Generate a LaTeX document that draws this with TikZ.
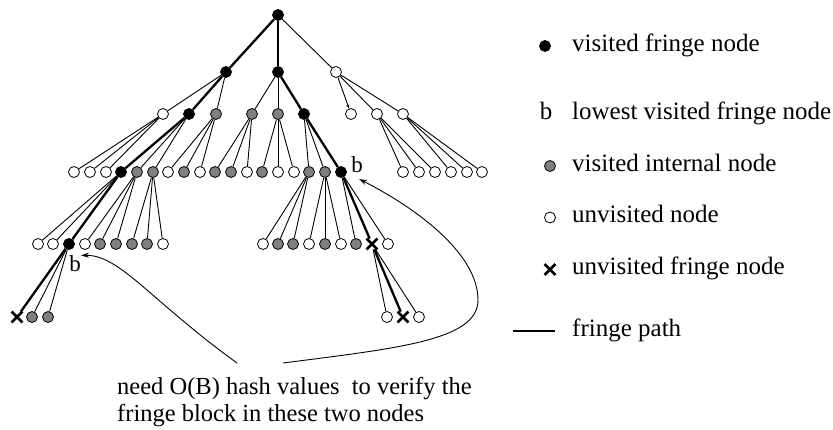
\documentclass[tikz,border=0pt]{standalone}
\usepackage{fontspec}
\setmainfont{Liberation Serif}
\usetikzlibrary{shapes.misc,arrows.meta}
\definecolor{midgray}{RGB}{128,128,128}
\begin{document}
\begin{tikzpicture}[x=1pt,y=-1pt,
  nd/.style={circle,draw=black,line width=0.8pt,minimum size=11pt,inner sep=0pt},
  wn/.style={nd,fill=white},
  bn/.style={nd,fill=black},
  gn/.style={nd,fill=midgray},
  xn/.style={cross out,draw=black,line width=2.8pt,minimum size=8pt,inner sep=0pt},
  tedge/.style={line width=0.9pt},
  fedge/.style={line width=2.3pt},
  blab/.style={font=\fontsize{23}{26}\selectfont,inner sep=0pt,anchor=base},
  ltext/.style={font=\fontsize{25}{29}\selectfont,inner sep=0pt,anchor=base west},
  ntext/.style={font=\fontsize{24.5}{29}\selectfont,inner sep=0pt,anchor=base west},
  callout/.style={line width=0.9pt,-{Stealth[length=8pt,width=5pt]}}
]
\useasboundingbox (0,0) rectangle (833,430);
% level 0-1
\node[bn] (r) at (278,15) {};
\node[bn] (a1) at (226,72) {};
\node[bn] (a2) at (278,72) {};
\node[wn] (a3) at (336,72) {};
% level 2
\foreach \n/\x/\s in {b1/163/wn,b2/189/bn,b3/216/gn,b4/252/gn,b5/278/gn,b6/304/bn,b7/351/wn,b8/377/wn,b9/403/wn}
  \node[\s] (\n) at (\x,114) {};
% level 3
\foreach \n/\x/\s in {c1/74/wn,c2/90/wn,c3/106/wn,c4/121/bn,c5/137/gn,c6/153/gn,c7/168/wn,c8/184/gn,c9/200/wn,c10/215/gn,c11/231/gn,c12/247/wn,c13/262/gn,c14/278/wn,c15/294/wn,c16/309/gn,c17/325/gn,c18/341/bn,c19/403/wn,c20/419/wn,c21/435/wn,c22/451/wn,c23/467/wn,c24/482/wn}
  \node[\s] (\n) at (\x,172) {};
% level 4
\foreach \n/\x/\s in {d1/38/wn,d2/53/wn,d3/69/bn,d4/85/wn,d5/100/gn,d6/116/gn,d7/132/gn,d8/147/gn,d9/163/wn,d10/263/wn,d11/278/gn,d12/293/gn,d13/309/wn,d14/325/gn,d15/341/wn,d16/356/gn,d17/372/xn,d18/388/wn}
  \node[\s] (\n) at (\x,244) {};
% level 5
\foreach \n/\x/\s in {e1/17/xn,e2/32/gn,e3/48/gn,e4/387/wn,e5/403/xn,e6/419/wn}
  \node[\s] (\n) at (\x,317) {};
% thin edges
\foreach \p/\c in {r/a3,a1/b1,a1/b3,a2/b4,a2/b5,a3/b8,a3/b9,
  b1/c1,b1/c2,b1/c3,b2/c5,b2/c6,b3/c7,b3/c8,b3/c9,b4/c10,b4/c11,b4/c12,
  b5/c13,b5/c14,b5/c15,b6/c16,b6/c17,b8/c19,b8/c20,b8/c21,b9/c22,b9/c23,b9/c24,
  c4/d1,c4/d2,c5/d4,c5/d5,c5/d6,c6/d7,c6/d8,c6/d9,c16/d10,c16/d11,c16/d12,
  c17/d13,c17/d14,c17/d15,c18/d16,c18/d18,d3/e2,d3/e3,d17/e4,d17/e6}
  \draw[tedge] (\p) -- (\c);
\draw[tedge,-{Stealth[length=4pt,width=3pt]}] (a3) -- (b7);
% fringe paths
\foreach \p/\c in {r/a1,r/a2,a1/b2,a2/b6,b2/c4,b6/c18,c4/d3,c18/d17,d3/e1,d17/e5}
  \draw[fedge] (\p) -- (\c);
% b labels
\node[blab] (bup) at (357,172.5) {b};
\node[blab] (blow) at (75,271.5) {b};
% note text
\node[ntext] (note1) at (117,395) {need O(B) hash values~ to verify the};
\node[ntext] (note2) at (117,421) {fringe block in these two nodes};
\coordinate (sL) at (237,363);
\coordinate (sU) at (283,363);
\coordinate (tipU) at (359,179);
\draw[callout] (sL) .. controls (150,300) and (120,255) .. (blow.north east);
\draw[callout] (sU) .. controls (400,348) and (478,340) .. (478,300)
  .. controls (478,255) and (420,210) .. (tipU);
% legend
\node[bn] (lg1) at (545,46) {};
\node[ltext] (lt1) at (572,51.5) {visited fringe node};
\node[font=\fontsize{25}{29}\selectfont,inner sep=0pt,anchor=base] (lg2) at (546,120) {b};
\node[ltext] (lt2) at (572,120) {lowest visited fringe node};
\node[gn] (lg3) at (550,166) {};
\node[ltext] (lt3) at (572,171.5) {visited internal node};
\node[wn] (lg4) at (550,217.5) {};
\node[ltext] (lt4) at (572,223) {unvisited node};
\node[xn] (lg5) at (550,269.5) {};
\node[ltext] (lt5) at (572,275) {unvisited fringe node};
\coordinate (lf1) at (513,331);
\coordinate (lf2) at (555,331);
\draw[fedge] (lf1) -- (lf2);
\node[ltext] (lt6) at (572,336.5) {fringe path};
\end{tikzpicture}
\end{document}
